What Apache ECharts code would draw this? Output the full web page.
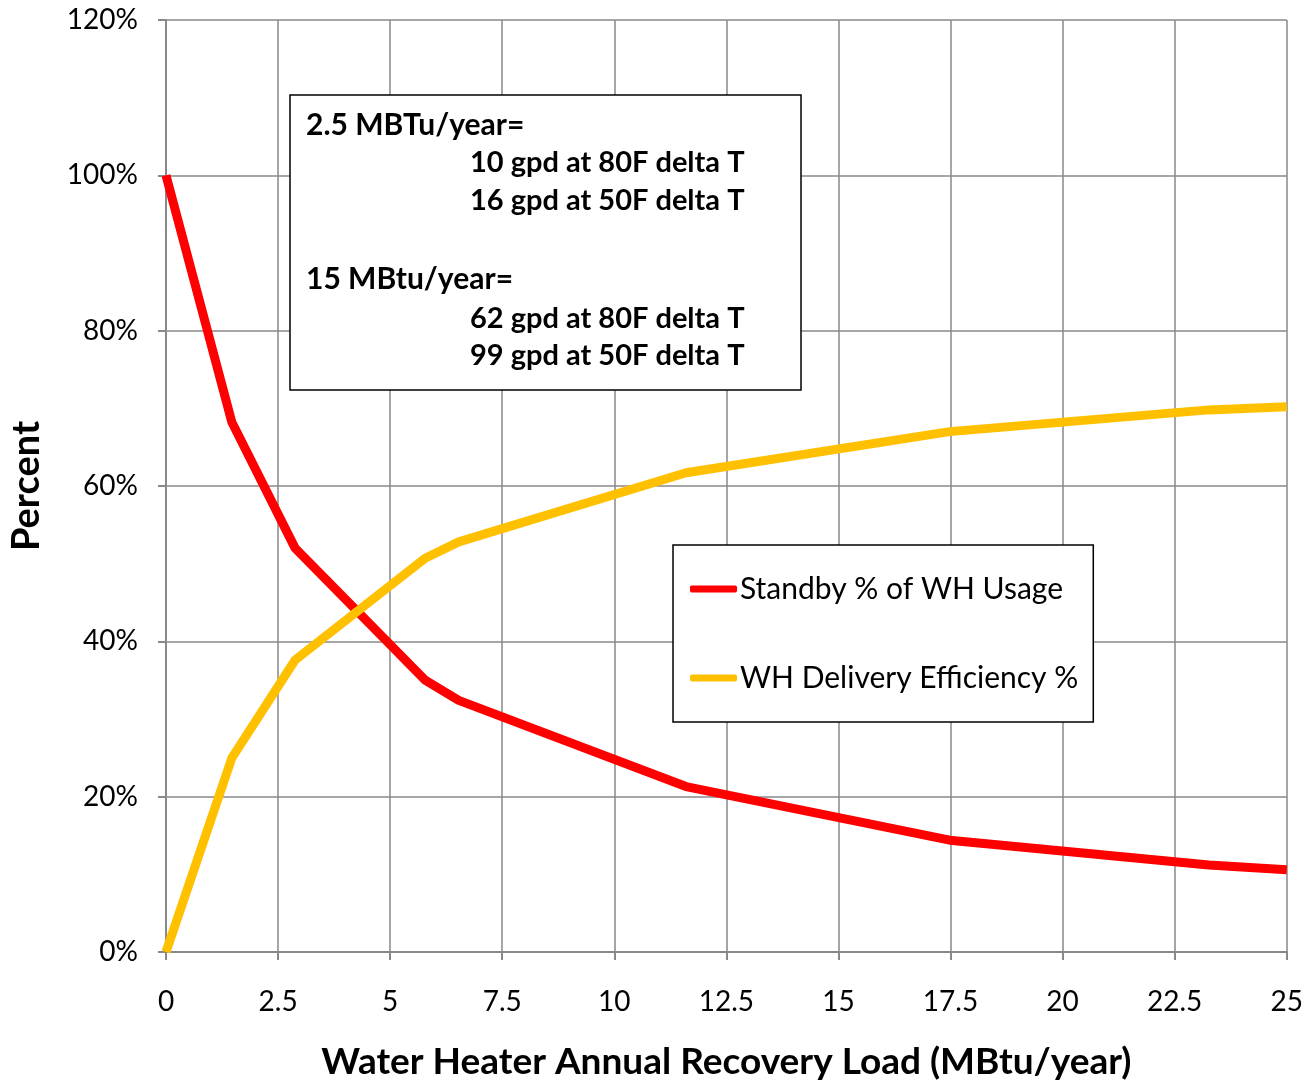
<!DOCTYPE html>
<html>
<head>
<meta charset="utf-8">
<script src="https://cdn.jsdelivr.net/npm/echarts@6/dist/echarts.min.js"></script>
<style>html,body{margin:0;padding:0;background:#fff}#c{width:1306px;height:1086px}</style>
</head>
<body>
<div id="c"></div>
<script>
const loadX = [0, 1.47, 2.88, 5.78, 6.53, 11.6, 17.48, 23.26, 25];
const standbyPct = [100, 68.2, 52.0, 35.0, 32.4, 21.3, 14.4, 11.2, 10.6];
const efficiencyPct = [0, 25.0, 37.6, 50.7, 52.8, 61.7, 67.0, 69.8, 70.2];
const seriesNames = ['Standby % of WH Usage', 'WH Delivery Efficiency %'];
const noteLines = [
  ['2.5 MBTu/year=', 0],
  ['10 gpd at 80F delta T', 1],
  ['16 gpd at 50F delta T', 1],
  ['', 0],
  ['15 MBtu/year=', 0],
  ['62 gpd at 80F delta T', 1],
  ['99 gpd at 50F delta T', 1]
];
const xTitle = 'Water Heater Annual Recovery Load (MBtu/year)';
const yTitle = 'Percent';

const FONT = 'Lato, "Open Sans", sans-serif';
const chart = echarts.init(document.getElementById('c'), null, {renderer: 'canvas'});

const noteY = [125, 163, 201, 240, 279, 319, 356];
const noteEls = [{
  type: 'rect', shape: {x: 290, y: 95, width: 511, height: 295},
  style: {fill: '#fff', stroke: '#000', lineWidth: 1.5}, z: 10
}];
noteLines.forEach((l, i) => {
  if (!l[0]) return;
  noteEls.push({
    type: 'text', x: l[1] ? 470 : 306, y: noteY[i], z: 11,
    style: {text: l[0], font: 'bold ' + (l[1] ? 29 : 30) + 'px ' + FONT, fill: '#000', verticalAlign: 'middle'}
  });
});

chart.setOption({
  animation: false,
  backgroundColor: '#fff',
  grid: {left: 166, right: 19, top: 20, bottom: 134},
  xAxis: {
    type: 'value', min: 0, max: 25, interval: 2.5,
    name: xTitle, nameLocation: 'middle', nameGap: 92,
    nameTextStyle: {fontFamily: FONT, fontWeight: 'bold', fontSize: 37, color: '#000'},
    axisLine: {show: true, lineStyle: {color: '#898989', width: 2}},
    axisTick: {show: true, length: 8, lineStyle: {color: '#898989', width: 2}},
    axisLabel: {margin: 36, fontFamily: FONT, fontSize: 28, color: '#000'},
    splitLine: {show: true, lineStyle: {color: '#898989', width: 1.5}}
  },
  yAxis: {
    type: 'value', min: 0, max: 120, interval: 20,
    name: yTitle, nameLocation: 'middle', nameGap: 120,
    nameTextStyle: {fontFamily: FONT, fontWeight: 'bold', fontSize: 38, color: '#000'},
    axisLine: {show: true, lineStyle: {color: '#898989', width: 2}},
    axisTick: {show: true, length: 8, lineStyle: {color: '#898989', width: 2}},
    axisLabel: {margin: 28, fontFamily: FONT, fontSize: 28, color: '#000', formatter: '{value}%'},
    splitLine: {show: true, lineStyle: {color: '#898989', width: 1.5}}
  },
  legend: {
    orient: 'vertical', left: 673, top: 545,
    padding: [29, 15, 29, 17], itemGap: 59,
    itemWidth: 47, itemHeight: 7, icon: 'roundRect',
    backgroundColor: '#fff', borderColor: '#000', borderWidth: 1.5,
    textStyle: {fontFamily: FONT, fontSize: 30, color: '#000', padding: [0, 0, 0, -2]},
    data: seriesNames, z: 10
  },
  series: [
    {
      name: seriesNames[0], type: 'line', symbol: 'none',
      data: loadX.map((x, i) => [x, standbyPct[i]]),
      lineStyle: {color: '#FF0000', width: 9}, itemStyle: {color: '#FF0000'}
    },
    {
      name: seriesNames[1], type: 'line', symbol: 'none',
      data: loadX.map((x, i) => [x, efficiencyPct[i]]),
      lineStyle: {color: '#FFC000', width: 9}, itemStyle: {color: '#FFC000'}
    }
  ],
  graphic: noteEls
});
</script>
</body>
</html>
